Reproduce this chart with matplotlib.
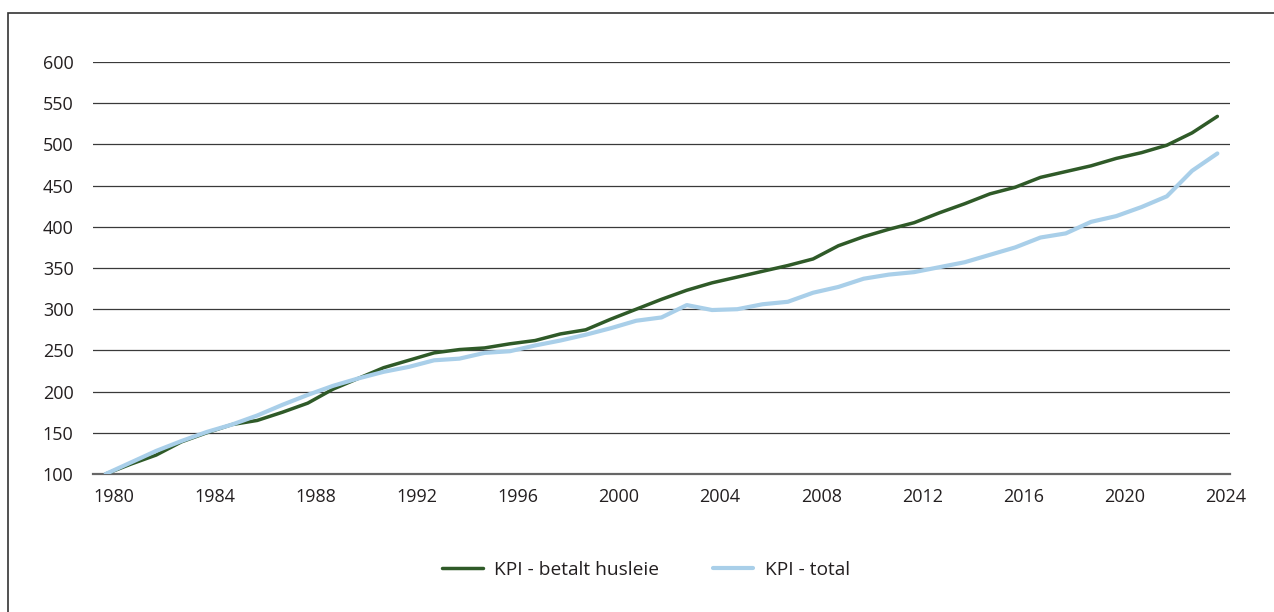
import matplotlib.pyplot as plt
import matplotlib.transforms as mtransforms
from matplotlib.patches import Rectangle

plt.rcParams['font.family'] = ['Open Sans', 'DejaVu Sans']

years = list(range(1980, 2025))

husleie = [100, 112, 123, 139, 150, 160, 165, 175, 186, 203,
           216, 229, 238, 247, 251, 253, 258, 262, 270, 275,
           288, 300, 312, 323, 332, 339, 346, 353, 361, 377,
           388, 397, 405, 417, 428, 440, 448, 460, 467, 474,
           483, 490, 499, 514, 534]

total = [100, 114, 128, 140, 151, 160, 171, 184, 196, 207,
         216, 224, 230, 238, 240, 247, 249, 256, 262, 269,
         277, 286, 290, 305, 299, 300, 306, 309, 320, 327,
         337, 342, 345, 351, 357, 366, 375, 387, 392, 406,
         413, 424, 437, 468, 489]

xticks = list(range(1980, 2025, 4))
yticks = list(range(100, 601, 50))

fig = plt.figure(figsize=(12.74, 6.12), dpi=100)
fig.patches.append(Rectangle((8 / 1274, -0.1), 1.2, 1 - 13 / 612 + 0.1,
                             transform=fig.transFigure, fill=False,
                             edgecolor='#333333', linewidth=1.2))

ax = fig.add_axes([93 / 1274, 1 - 474 / 612, (1230 - 93) / 1274, (474 - 62) / 612])

ax.plot(years, husleie, color='#2f5a28', linewidth=2.5, label='KPI - betalt husleie',
        solid_capstyle='round', zorder=3)
ax.plot(years, total, color='#a9cfe9', linewidth=3.0, label='KPI - total',
        solid_capstyle='round', zorder=3)

ax.set_xlim(1979.5, 2024.5)
ax.set_ylim(100, 600)
ax.set_xticks(xticks)
ax.set_yticks(yticks)
ax.yaxis.grid(True, color='#3a3a3a', linewidth=0.9)
ax.set_axisbelow(True)
for s in ax.spines.values():
    s.set_visible(False)
ax.axhline(100, color='#666666', linewidth=1.6, zorder=2, clip_on=False)
ax.tick_params(axis='both', length=0, labelsize=13, colors='#231f20')
ax.tick_params(axis='y', pad=14)
ax.tick_params(axis='x', pad=10)

offset = mtransforms.ScaledTranslation(8 / 100, 0, fig.dpi_scale_trans)
for lab in ax.get_xticklabels():
    lab.set_transform(lab.get_transform() + offset)

leg = fig.legend(loc='center', bbox_to_anchor=(646 / 1274, 1 - 570 / 612), ncol=2,
                 frameon=False, fontsize=13.8, handlelength=2.1, columnspacing=2.8,
                 handletextpad=0.6)
for t in leg.get_texts():
    t.set_color('#231f20')

fig.savefig('out.png', dpi=100)
